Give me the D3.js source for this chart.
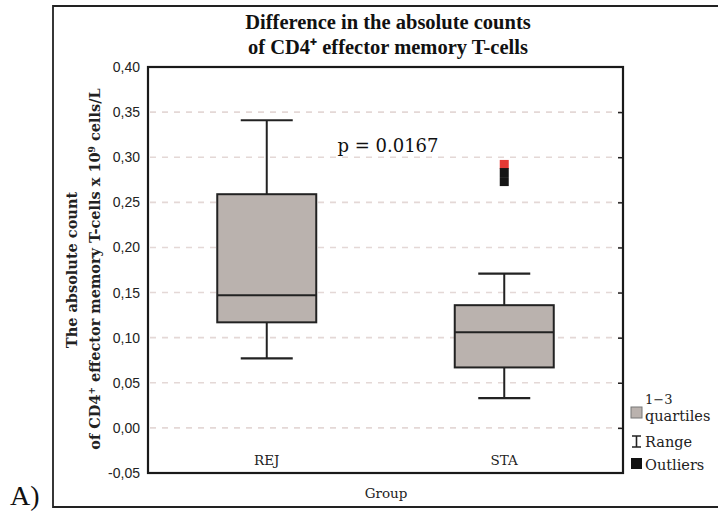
<!DOCTYPE html>
<html><head><meta charset="utf-8">
<script src="https://cdn.jsdelivr.net/npm/d3@7"></script>
<style>body{margin:0;background:#fff}</style>
</head><body>
<script>
const groups = ["REJ", "STA"];
const whiskerMin = [0.077, 0.033];
const q1 = [0.117, 0.067];
const median = [0.147, 0.106];
const q3 = [0.259, 0.136];
const whiskerMax = [0.341, 0.171];
const outliers = [[], [0.273, 0.283]];
const extremes = [[], [0.292]];
const yTicks = [-0.05, 0, 0.05, 0.10, 0.15, 0.20, 0.25, 0.30, 0.35, 0.40];
const gridTicks = [0, 0.05, 0.10, 0.15, 0.20, 0.25, 0.30, 0.35];
const titleLines = ["Difference in the absolute counts", "of CD4\u207A effector memory T-cells"];

const W = 718, H = 512;
const svg = d3.select("body").append("svg").attr("width", W).attr("height", H);
const serif = "'DejaVu Serif', 'Liberation Serif', serif";
const lserif = "'Liberation Serif', serif";
const narrow = "'Liberation Sans Narrow', 'Liberation Sans', sans-serif";

const m = {l: 148, r: 623, t: 67, b: 473};
const y = d3.scaleLinear().domain([-0.05, 0.40]).range([m.b, m.t]);
const x = d3.scaleBand().domain(groups).range([m.l, m.r]);
const boxW = 99, capW = 52, outW = 9;

// outer frame
svg.append("path").attr("d", `M${W},6 H53 V507 H${W}`).attr("fill", "none").attr("stroke", "#222").attr("stroke-width", 1.8);
svg.append("text").attr("x", 10).attr("y", 505).attr("font-family", lserif).attr("font-size", 28).attr("fill", "#111").text("A)");

// title
svg.append("g").selectAll("text").data(titleLines).join("text")
  .attr("x", 388).attr("y", (d, i) => 29 + i * 25).attr("text-anchor", "middle")
  .attr("font-family", lserif).attr("font-weight", "bold").attr("font-size", 20.5).attr("fill", "#111")
  .text(d => d);

// grid
svg.append("g").selectAll("line").data(gridTicks).join("line")
  .attr("x1", m.l + 2).attr("x2", m.r - 2).attr("y1", d => y(d)).attr("y2", d => y(d))
  .attr("stroke", "#e4d8d6").attr("stroke-width", 1.6).attr("stroke-dasharray", "6,6");

// y axis labels
const yAxis = d3.axisLeft(y).tickValues(yTicks).tickSize(0).tickPadding(8)
  .tickFormat(d => d3.format(".2f")(d).replace(".", ",").replace("\u2212", "-"));
const ya = svg.append("g").attr("transform", `translate(${m.l},0)`).call(yAxis);
ya.select(".domain").remove();
ya.selectAll("text").attr("font-family", narrow).attr("font-size", 14).attr("fill", "#222");

// right axis ticks
const ra = svg.append("g").attr("transform", `translate(${m.r},0)`)
  .call(d3.axisRight(y).tickValues(gridTicks).tickSize(-5).tickFormat(""));
ra.select(".domain").remove();
ra.selectAll("line").attr("stroke", "#222").attr("stroke-width", 1.5);

// boxes
const g = svg.append("g");
groups.forEach((grp, i) => {
  const cx = x(grp) + x.bandwidth() / 2;
  g.append("line").attr("x1", cx).attr("x2", cx).attr("y1", y(whiskerMax[i])).attr("y2", y(q3[i])).attr("stroke", "#222").attr("stroke-width", 2);
  g.append("line").attr("x1", cx).attr("x2", cx).attr("y1", y(q1[i])).attr("y2", y(whiskerMin[i])).attr("stroke", "#222").attr("stroke-width", 2);
  g.append("line").attr("x1", cx - capW / 2).attr("x2", cx + capW / 2).attr("y1", y(whiskerMax[i])).attr("y2", y(whiskerMax[i])).attr("stroke", "#222").attr("stroke-width", 2.2);
  g.append("line").attr("x1", cx - capW / 2).attr("x2", cx + capW / 2).attr("y1", y(whiskerMin[i])).attr("y2", y(whiskerMin[i])).attr("stroke", "#222").attr("stroke-width", 2.2);
  g.append("rect").attr("x", cx - boxW / 2).attr("width", boxW).attr("y", y(q3[i])).attr("height", y(q1[i]) - y(q3[i]))
    .attr("fill", "#bab2ae").attr("stroke", "#222").attr("stroke-width", 2);
  g.append("line").attr("x1", cx - boxW / 2).attr("x2", cx + boxW / 2).attr("y1", y(median[i])).attr("y2", y(median[i])).attr("stroke", "#222").attr("stroke-width", 2);
  extremes[i].forEach(v => g.append("rect").attr("x", cx - outW / 2).attr("y", y(v) - outW / 2).attr("width", outW).attr("height", outW).attr("fill", "#e53a35"));
  outliers[i].forEach(v => g.append("rect").attr("x", cx - outW / 2).attr("y", y(v) - outW / 2).attr("width", outW).attr("height", outW).attr("fill", "#161616"));
  g.append("text").attr("x", cx).attr("y", 465).attr("text-anchor", "middle").attr("font-family", serif).attr("font-size", 13.5).attr("fill", "#222").text(grp);
});

// plot frame
svg.append("rect").attr("x", m.l).attr("y", m.t).attr("width", m.r - m.l).attr("height", m.b - m.t)
  .attr("fill", "none").attr("stroke", "#1a1a1a").attr("stroke-width", 2.2);

// p-value
svg.append("text").attr("x", 388).attr("y", 152).attr("text-anchor", "middle").attr("font-family", serif).attr("font-size", 18).attr("fill", "#111").text("p = 0.0167");

// axis titles
svg.append("text").attr("x", 386).attr("y", 498).attr("text-anchor", "middle").attr("font-family", serif).attr("font-size", 13.5).attr("fill", "#222").text("Group");
svg.append("text").attr("transform", "translate(77,270) rotate(-90)").attr("text-anchor", "middle")
  .attr("font-family", serif).attr("font-weight", "bold").attr("font-size", 14.5).attr("fill", "#222").text("The absolute count");
const yt2 = svg.append("text").attr("transform", "translate(100,269) rotate(-90)").attr("text-anchor", "middle")
  .attr("font-family", serif).attr("font-weight", "bold").attr("font-size", 14.5).attr("fill", "#222");
yt2.append("tspan").text("of CD4");
yt2.append("tspan").attr("dy", -5).attr("font-size", 9).text("+");
yt2.append("tspan").attr("dy", 5).text(" effector memory T-cells x 10");
yt2.append("tspan").attr("dy", -5).attr("font-size", 9).text("9");
yt2.append("tspan").attr("dy", 5).text(" cells/L");

// legend
const lg = svg.append("g").attr("font-family", serif).attr("font-size", 14.5).attr("fill", "#222");
lg.append("rect").attr("x", 631).attr("y", 407).attr("width", 11).attr("height", 11).attr("fill", "#bab2ae").attr("stroke", "#777").attr("stroke-width", 1);
lg.append("text").attr("x", 645).attr("y", 404).attr("font-size", 13).text("1\u22123");
lg.append("text").attr("x", 645).attr("y", 421).text("quartiles");
lg.append("path").attr("d", "M632,436 H641 M636.5,436 V447 M632,447 H641").attr("stroke", "#222").attr("stroke-width", 1.6).attr("fill", "none");
lg.append("text").attr("x", 645).attr("y", 447).text("Range");
lg.append("rect").attr("x", 631).attr("y", 458).attr("width", 11).attr("height", 11).attr("fill", "#111");
lg.append("text").attr("x", 645).attr("y", 470).text("Outliers");
</script>
</body></html>
